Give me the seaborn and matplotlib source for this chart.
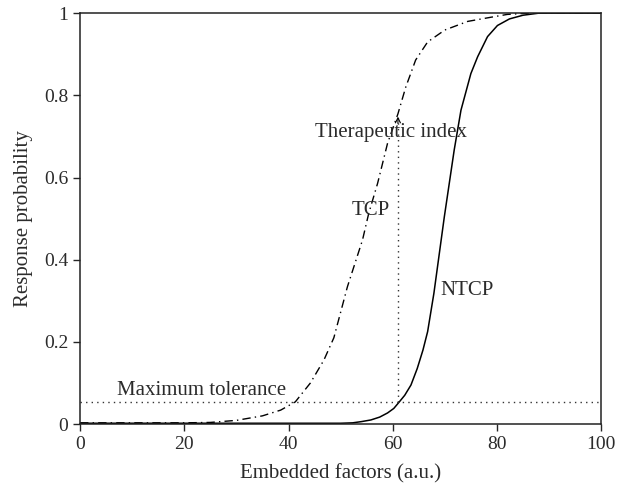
import matplotlib
matplotlib.use("Agg")
import matplotlib.pyplot as plt
import seaborn as sns
import pandas as pd

# values
tcp_x = [0, 10, 20, 25, 27, 30, 35, 38.5, 41.3, 44.2, 46.8, 48.7, 51.3, 54.2, 55.4,
         57.1, 59, 61, 62.5, 64.4, 66.7, 70, 74.4, 78.8, 82, 86, 90, 100]
tcp_y = [0.003, 0.003, 0.003, 0.004, 0.006, 0.009, 0.02, 0.034, 0.054, 0.10, 0.156,
         0.21, 0.334, 0.448, 0.513, 0.586, 0.683, 0.755, 0.82, 0.886, 0.93, 0.959,
         0.98, 0.99, 0.997, 1.0, 1.0, 1.0]
ntcp_x = [0, 20, 40, 50, 52.3, 54, 55.8, 57.5, 59, 60.2, 61.2, 62.3, 63.5, 64.7, 65.8,
          66.7, 67.9, 69.9, 71.8, 73.1, 75, 76.3, 78.2, 80.1, 82.4, 85, 88, 100]
ntcp_y = [0.002, 0.002, 0.002, 0.002, 0.003, 0.006, 0.01, 0.017, 0.027, 0.038, 0.053,
          0.07, 0.095, 0.135, 0.18, 0.225, 0.318, 0.504, 0.667, 0.764, 0.853, 0.894,
          0.943, 0.97, 0.986, 0.995, 1.0, 1.0]
max_tolerance = 0.053
therapeutic_x = 61
therapeutic_top = 0.755
x_ticks = [0, 20, 40, 60, 80, 100]
y_ticks = [0, 0.2, 0.4, 0.6, 0.8, 1]
y_tick_labels = ["0", "0.2", "0.4", "0.6", "0.8", "1"]

sns.set_style("ticks")
plt.rcParams["font.family"] = ["Liberation Serif", "DejaVu Serif"]
txt = "#2b2b2b"

fig = plt.figure(figsize=(6.21, 4.88), dpi=100)
ax = fig.add_axes([0.129, 0.131, 0.839, 0.842])

tcp = pd.DataFrame({"x": tcp_x, "y": tcp_y})
ntcp = pd.DataFrame({"x": ntcp_x, "y": ntcp_y})
sns.lineplot(data=tcp, x="x", y="y", ax=ax, color="black", lw=1.0,
             linestyle=(0, (6, 3, 1, 3)))
sns.lineplot(data=ntcp, x="x", y="y", ax=ax, color="black", lw=1.1)

# maximum tolerance level and therapeutic index marker
ax.plot([0, 100], [max_tolerance, max_tolerance], color="#333333", lw=1.0,
        linestyle=(0, (1, 3)))
ax.plot([therapeutic_x, therapeutic_x], [max_tolerance, therapeutic_top - 0.01],
        color="#333333", lw=1.0, linestyle=(0, (1, 3)))
ax.annotate("", xy=(therapeutic_x, therapeutic_top), xytext=(therapeutic_x, therapeutic_top - 0.03),
            arrowprops=dict(arrowstyle="->", lw=0.8, color="black", mutation_scale=9))

ax.text(45, 0.71, "Therapeutic index", fontsize=15, color=txt, va="center", ha="left")
ax.text(55.8, 0.52, "TCP", fontsize=15, color=txt, va="center", ha="center")
ax.text(69.2, 0.325, "NTCP", fontsize=15, color=txt, va="center", ha="left")
ax.text(7.1, 0.082, "Maximum tolerance", fontsize=15, color=txt, va="center", ha="left")

ax.set_xlim(0, 100)
ax.set_ylim(0, 1)
ax.set_xticks(x_ticks)
ax.set_yticks(y_ticks)
ax.set_yticklabels(y_tick_labels)
ax.tick_params(axis="both", labelsize=14, labelcolor=txt, direction="out", length=5, width=1)
ax.set_xlabel("Embedded factors (a.u.)", fontsize=15, color=txt, labelpad=8)
ax.set_ylabel("Response probability", fontsize=15, color=txt, labelpad=8)
for s in ax.spines.values():
    s.set_visible(True)
    s.set_linewidth(1.1)
    s.set_color("#222222")

fig.savefig("out.png", dpi=100)
